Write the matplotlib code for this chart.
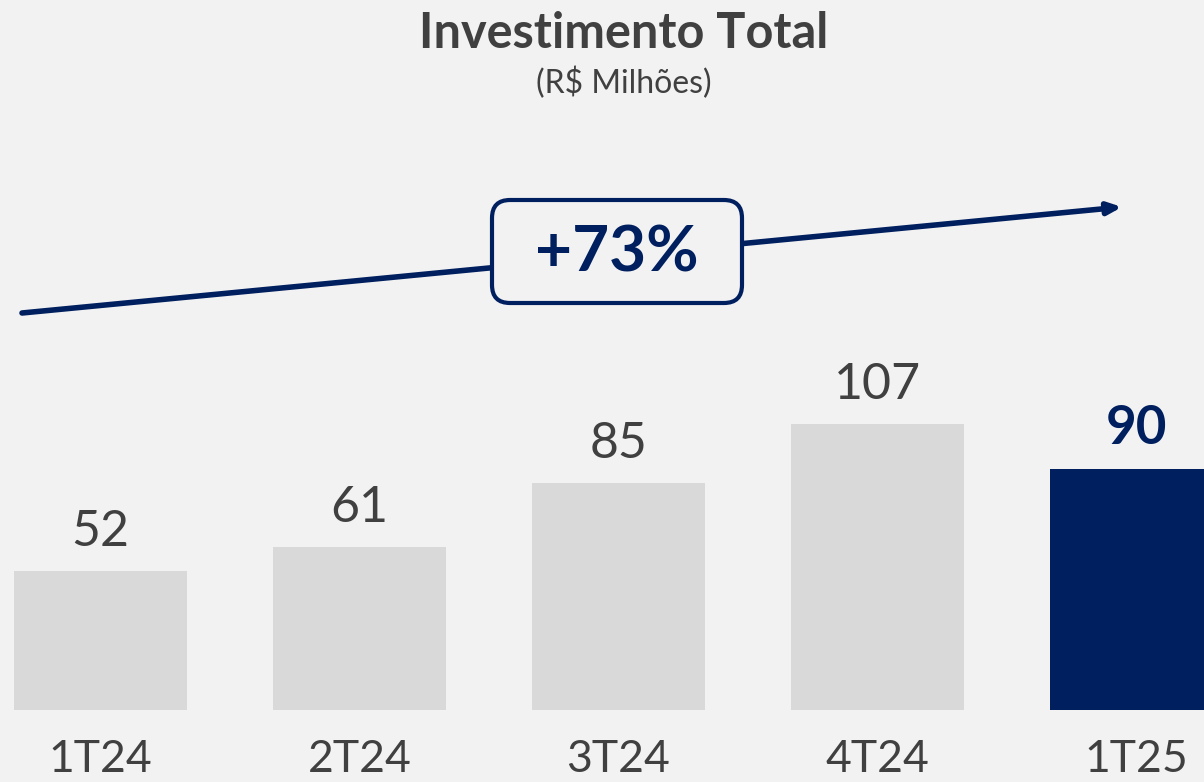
import matplotlib.pyplot as plt
from matplotlib.patches import FancyBboxPatch

# quarterly total investment (R$ millions)
quarters = ["1T24", "2T24", "3T24", "4T24", "1T25"]
investment = [52, 61, 85, 107, 90]
growth_label = "+73%"

BG = "#f2f2f2"
NAVY = "#001f5f"
LIGHT = "#d9d9d9"
TEXT = "#404040"
FONT = "Lato"

W, H = 1204, 782


def fx(px):
    return px / W


def fy(py):
    return 1 - py / H


def main():
    fig = plt.figure(figsize=(W / 100, H / 100), dpi=100, facecolor=BG)
    ax = fig.add_axes([0, 0, 1, 1])
    ax.set_facecolor(BG)

    x = list(range(len(quarters)))
    colors = [LIGHT] * (len(quarters) - 1) + [NAVY]
    ax.bar(x, investment, width=0.668, color=colors)

    for i, v in enumerate(investment):
        last = i == len(investment) - 1
        ax.text(i, v + 6, str(v), ha="center", va="bottom",
                fontsize=38 if last else 36, family=FONT,
                color=NAVY if last else TEXT,
                fontweight="bold" if last else "normal")
        ax.text(i, -26.2, quarters[i], ha="center", va="bottom", fontsize=32,
                family=FONT, color=TEXT)

    ax.set_xlim(-0.388, 4.261)
    ax.set_ylim(-26.9, 265.6)
    ax.axis("off")

    # title and unit
    fig.text(fx(624), fy(33), "Investimento Total", ha="center", va="center",
             fontsize=35, fontweight="bold", family=FONT, color=TEXT)
    fig.text(fx(624), fy(83), "(R$ Milhões)", ha="center", va="center",
             fontsize=23, family=FONT, color=TEXT)

    # growth arrow with the label box on top
    ax.annotate("", xy=(fx(1122), fy(207)), xytext=(fx(22), fy(313)),
                xycoords="figure fraction", textcoords="figure fraction",
                arrowprops=dict(arrowstyle="-|>,head_length=0.8,head_width=0.35",
                                color=NAVY, lw=4, shrinkA=0, shrinkB=0))
    box = FancyBboxPatch((fx(492), fy(303)), fx(742) - fx(492), fy(200) - fy(303),
                         boxstyle="round,pad=0,rounding_size=0.015",
                         transform=fig.transFigure, facecolor=BG,
                         edgecolor=NAVY, lw=3, mutation_aspect=W / H, zorder=5)
    fig.patches.append(box)
    fig.text(fx(617), fy(253), growth_label, ha="center", va="center",
             fontsize=46, fontweight="bold", family=FONT, color=NAVY, zorder=6)

    fig.savefig("out.png", dpi=100, facecolor=BG)


if __name__ == "__main__":
    main()
